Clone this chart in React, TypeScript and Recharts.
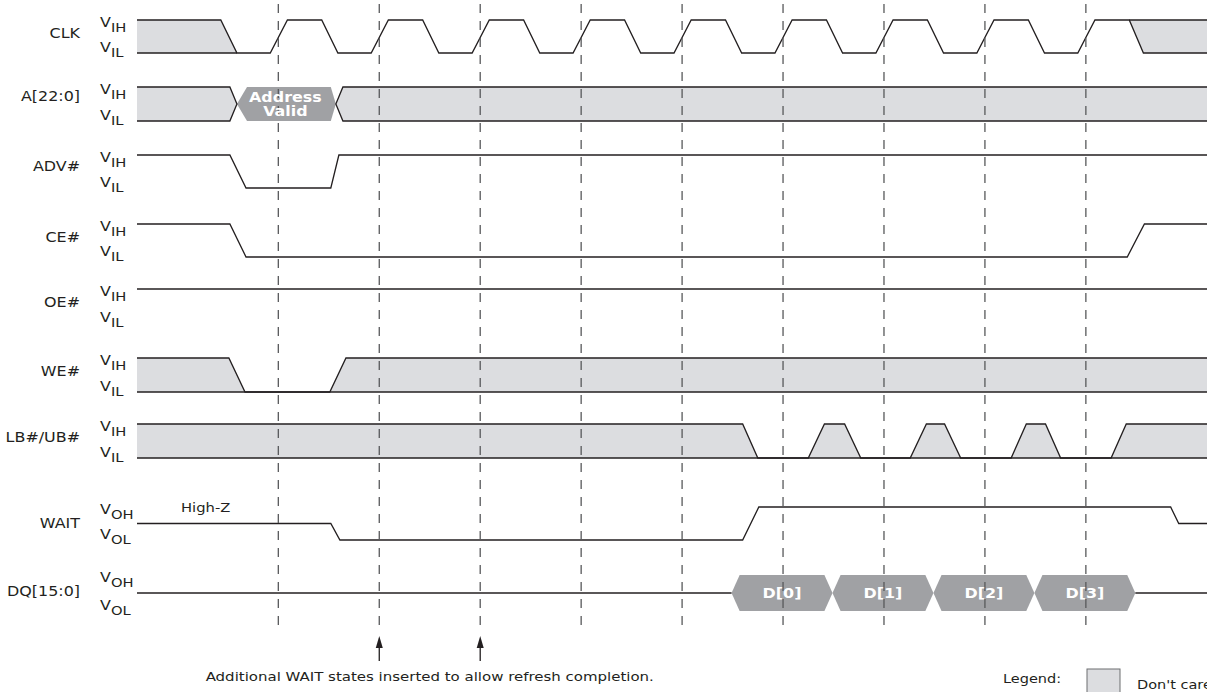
import React from 'react'
import { ComposedChart, XAxis, YAxis, Line, Area, Scatter, ReferenceLine } from 'recharts'

// time axis in clock periods, dashed marks sit on the rising edges
const T_MIN = -0.4
const T_MAX = 10.2

const SIGNALS = ['CLK', 'A[22:0]', 'ADV#', 'CE#', 'OE#', 'WE#', 'LB#/UB#', 'WAIT', 'DQ[15:0]']
const LEVEL_TAGS = [
  ['IH', 'IL'], ['IH', 'IL'], ['IH', 'IL'], ['IH', 'IL'], ['IH', 'IL'],
  ['IH', 'IL'], ['IH', 'IL'], ['OH', 'OL'], ['OH', 'OL'],
]
const CLOCK_EDGES = [1, 2, 3, 4, 5, 6, 7, 8, 9]
const WAIT_MARKS = [2, 3]
const NOTE = 'Additional WAIT states inserted to allow refresh completion.'

type Pt = [number, number] // [t, level]  1 = high, 0 = low, 0.5 = mid / high-Z
type Band = [number, number, number] // [t, lowerLevel, upperLevel]

// ---- waveforms (outlines) ----
const CLK_WAVE: Pt[] = [
  [T_MIN, 1], [0.43, 1], [0.59, 0], [0.92, 0], [1.09, 1], [1.43, 1], [1.59, 0], [1.92, 0],
  [2.09, 1], [2.43, 1], [2.59, 0], [2.92, 0], [3.09, 1], [3.43, 1], [3.59, 0], [3.92, 0],
  [4.09, 1], [4.43, 1], [4.59, 0], [4.92, 0], [5.09, 1], [5.43, 1], [5.59, 0], [5.92, 0],
  [6.09, 1], [6.43, 1], [6.59, 0], [6.92, 0], [7.09, 1], [7.43, 1], [7.59, 0], [7.92, 0],
  [8.09, 1], [8.43, 1], [8.59, 0], [8.92, 0], [9.09, 1], [9.43, 1], [9.57, 0], [T_MAX, 0],
]
const CLK_RAIL_LOW: Pt[] = [[T_MIN, 0], [0.59, 0]]
const CLK_RAIL_HIGH: Pt[] = [[9.43, 1], [T_MAX, 1]]
const A_LEFT: Pt[] = [[T_MIN, 1], [0.52, 1], [0.59, 0.5], [0.52, 0], [T_MIN, 0]]
const A_RIGHT: Pt[] = [[T_MAX, 1], [1.64, 1], [1.57, 0.5], [1.64, 0], [T_MAX, 0]]
const ADV_WAVE: Pt[] = [[T_MIN, 1], [0.52, 1], [0.68, 0], [1.52, 0], [1.6, 1], [T_MAX, 1]]
const CE_WAVE: Pt[] = [[T_MIN, 1], [0.52, 1], [0.68, 0], [9.41, 0], [9.58, 1], [T_MAX, 1]]
const OE_WAVE: Pt[] = [[T_MIN, 1], [T_MAX, 1]]
const WE_WAVE: Pt[] = [[T_MIN, 1], [0.51, 1], [0.67, 0], [1.51, 0], [1.67, 1], [T_MAX, 1]]
const WE_RAIL: Pt[] = [[T_MIN, 0], [T_MAX, 0]]
const LB_WAVE: Pt[] = [
  [T_MIN, 1], [5.6, 1], [5.75, 0], [6.25, 0], [6.41, 1], [6.61, 1], [6.77, 0], [7.26, 0],
  [7.42, 1], [7.6, 1], [7.76, 0], [8.26, 0], [8.41, 1], [8.6, 1], [8.75, 0], [9.25, 0],
  [9.4, 1], [T_MAX, 1],
]
const LB_RAIL: Pt[] = [[T_MIN, 0], [T_MAX, 0]]
const WAIT_WAVE: Pt[] = [[T_MIN, 0.5], [1.52, 0.5], [1.61, 0], [5.6, 0], [5.76, 1], [9.84, 1], [9.92, 0.5], [T_MAX, 0.5]]
const DQ_BEFORE: Pt[] = [[T_MIN, 0.5], [5.49, 0.5]]
const DQ_AFTER: Pt[] = [[9.49, 0.5], [T_MAX, 0.5]]

// ---- don't care shading ----
const CLK_DC_START: Band[] = [[T_MIN, 0, 1], [0.43, 0, 1], [0.59, 0, 0]]
const CLK_DC_END: Band[] = [[9.43, 1, 1], [9.57, 0, 1], [T_MAX, 0, 1]]
const A_DC_START: Band[] = [[T_MIN, 0, 1], [0.52, 0, 1], [0.59, 0.5, 0.5]]
const A_DC_END: Band[] = [[1.57, 0.5, 0.5], [1.64, 0, 1], [T_MAX, 0, 1]]
const WE_DC_START: Band[] = [[T_MIN, 0, 1], [0.51, 0, 1], [0.67, 0, 0]]
const WE_DC_END: Band[] = [[1.51, 0, 0], [1.67, 0, 1], [T_MAX, 0, 1]]
const LB_DC: Band[] = LB_WAVE.map(([t, l]) => [t, 0, l] as Band)

// ---- valid bus windows ----
const A_VALID: Band[] = [[0.59, 0.5, 0.5], [0.69, 0, 1], [1.52, 0, 1], [1.57, 0.5, 0.5]]
const D0: Band[] = [[5.49, 0.5, 0.5], [5.57, 0, 1], [6.41, 0, 1], [6.49, 0.5, 0.5]]
const D1: Band[] = [[6.49, 0.5, 0.5], [6.57, 0, 1], [7.41, 0, 1], [7.49, 0.5, 0.5]]
const D2: Band[] = [[7.49, 0.5, 0.5], [7.57, 0, 1], [8.41, 0, 1], [8.49, 0.5, 0.5]]
const D3: Band[] = [[8.49, 0.5, 0.5], [8.57, 0, 1], [9.41, 0, 1], [9.49, 0.5, 0.5]]
const BUS_TEXT = [
  { row: 1, t: 1.07, lines: ['Address', 'Valid'] },
  { row: 8, t: 5.99, lines: ['D[0]'] },
  { row: 8, t: 6.99, lines: ['D[1]'] },
  { row: 8, t: 7.99, lines: ['D[2]'] },
  { row: 8, t: 8.99, lines: ['D[3]'] },
]

// ---- layout (pixels, y axis is 1:1 with the page) ----
const W = 1207
const H = 692
const ROW_HIGH = [20, 87, 155, 224, 289, 358, 424, 507, 575]
const ROW_LOW = [53, 121, 188, 257, 323, 392, 458, 540, 611]
const NAME_SHIFT = [-3, -7, -5, -3, -3, -3, -3, 0, -1]
const ROW_MIDS = ROW_HIGH.map((h, i) => (h + ROW_LOW[i]) / 2)

const INK = '#231f20'
const SHADE = '#dcdde0'
const BUS = '#a0a1a4'
const FONT = '"DejaVu Sans", Verdana, sans-serif'
const STRETCH = 1.18

const yOf = (row: number, level: number) => ROW_LOW[row] + (ROW_HIGH[row] - ROW_LOW[row]) * level

const TRACES: { row: number; pts: Pt[] }[] = [
  { row: 0, pts: CLK_WAVE }, { row: 0, pts: CLK_RAIL_LOW }, { row: 0, pts: CLK_RAIL_HIGH },
  { row: 1, pts: A_LEFT }, { row: 1, pts: A_RIGHT },
  { row: 2, pts: ADV_WAVE }, { row: 3, pts: CE_WAVE }, { row: 4, pts: OE_WAVE },
  { row: 5, pts: WE_WAVE }, { row: 5, pts: WE_RAIL },
  { row: 6, pts: LB_WAVE }, { row: 6, pts: LB_RAIL },
  { row: 7, pts: WAIT_WAVE }, { row: 8, pts: DQ_BEFORE }, { row: 8, pts: DQ_AFTER },
]
const SHADES: { row: number; pts: Band[]; fill: string }[] = [
  { row: 0, pts: CLK_DC_START, fill: SHADE }, { row: 0, pts: CLK_DC_END, fill: SHADE },
  { row: 1, pts: A_DC_START, fill: SHADE }, { row: 1, pts: A_DC_END, fill: SHADE },
  { row: 5, pts: WE_DC_START, fill: SHADE }, { row: 5, pts: WE_DC_END, fill: SHADE },
  { row: 6, pts: LB_DC, fill: SHADE },
  { row: 1, pts: A_VALID, fill: BUS },
  { row: 8, pts: D0, fill: BUS }, { row: 8, pts: D1, fill: BUS },
  { row: 8, pts: D2, fill: BUS }, { row: 8, pts: D3, fill: BUS },
]

const Txt = ({ x, y, anchor = 'start', size = 13.5, bold = false, fill = INK, children }: any) => (
  <g transform={`translate(${x},${y}) scale(${STRETCH},1)`}>
    <text textAnchor={anchor} fontSize={size} fontWeight={bold ? 'bold' : 'normal'} fill={fill} fontFamily={FONT}>
      {children}
    </text>
  </g>
)

const RowTick = (props: any) => {
  const { y, payload } = props
  const i = ROW_MIDS.indexOf(payload.value)
  if (i < 0) return null
  const dHi = ROW_HIGH[i] - ROW_MIDS[i]
  const dLo = ROW_LOW[i] - ROW_MIDS[i]
  return (
    <g>
      <Txt x={80} y={y + NAME_SHIFT[i] + 4} anchor='end'>{SIGNALS[i]}</Txt>
      <Txt x={100} y={y + dHi + 7}>
        V<tspan dy={5} fontSize={12.5}>{LEVEL_TAGS[i][0]}</tspan>
      </Txt>
      <Txt x={100} y={y + dLo - 1}>
        V<tspan dy={5} fontSize={12.5}>{LEVEL_TAGS[i][1]}</tspan>
      </Txt>
    </g>
  )
}

const BusLabel = (props: any) => {
  const { cx, cy, payload } = props
  const n = payload.lines.length
  return (
    <g>
      {payload.lines.map((s: string, k: number) => (
        <Txt key={k} x={cx} y={cy + 5 + (k - (n - 1) / 2) * 14} anchor='middle' size={13.5} bold fill='#ffffff'>{s}</Txt>
      ))}
    </g>
  )
}

const Arrow = (props: any) => {
  const { cx, cy } = props
  return (
    <g>
      <line x1={cx} y1={cy + 8} x2={cx} y2={cy + 25} stroke={INK} strokeWidth={1.3} />
      <path d={`M${cx},${cy} L${cx - 3.5},${cy + 12} L${cx + 3.5},${cy + 12} Z`} fill={INK} />
    </g>
  )
}

const Note = (props: any) => (
  <Txt x={props.cx} y={props.cy} anchor={props.payload.anchor} size={props.payload.size}>{props.payload.text}</Txt>
)

export default function App() {
  const busText = BUS_TEXT.map((b) => ({ t: b.t, y: yOf(b.row, 0.5), lines: b.lines }))
  const arrows = WAIT_MARKS.map((t) => ({ t, y: 636 }))
  const notes = [
    { t: 2.5, y: 681, text: NOTE, anchor: 'middle', size: 12.7 },
    { t: 0.28, y: 512, text: 'High-Z', anchor: 'middle', size: 12.5 },
  ]

  return (
    <div style={{ position: 'relative', width: W, height: H }}>
      <style>{'body{margin:0}'}</style>
      <ComposedChart width={W} height={H} margin={{ top: 0, right: 0, bottom: 0, left: 0 }}>
        <XAxis type='number' dataKey='t' domain={[T_MIN, T_MAX]} allowDataOverflow hide />
        <YAxis
          type='number'
          domain={[0, H]}
          reversed
          allowDataOverflow
          width={137}
          ticks={ROW_MIDS}
          interval={0}
          tick={<RowTick />}
          axisLine={false}
          tickLine={false}
        />
        {SHADES.map((s, i) => (
          <Area
            key={`sh-${i}`}
            data={s.pts.map(([t, lo, hi]) => ({ t, band: [yOf(s.row, lo), yOf(s.row, hi)] }))}
            dataKey='band'
            type='linear'
            fill={s.fill}
            fillOpacity={1}
            stroke='none'
            dot={false}
            activeDot={false}
            isAnimationActive={false}
          />
        ))}
        {TRACES.map((tr, i) => (
          <Line
            key={`tr-${i}`}
            data={tr.pts.map(([t, l]) => ({ t, y: yOf(tr.row, l) }))}
            dataKey='y'
            type='linear'
            stroke={INK}
            strokeWidth={1.3}
            dot={false}
            activeDot={false}
            isAnimationActive={false}
          />
        ))}
        {CLOCK_EDGES.map((t) => (
          <ReferenceLine
            key={`edge-${t}`}
            segment={[{ x: t, y: 4 }, { x: t, y: 628 }]}
            stroke='#58595b'
            strokeWidth={1.3}
            strokeDasharray='9 8'
          />
        ))}
        <Scatter data={busText} dataKey='y' shape={<BusLabel />} isAnimationActive={false} />
        <Scatter data={arrows} dataKey='y' shape={<Arrow />} isAnimationActive={false} />
        <Scatter data={notes} dataKey='y' shape={<Note />} isAnimationActive={false} />
      </ComposedChart>
      {/* legend */}
      <svg width={W} height={H} style={{ position: 'absolute', left: 0, top: 0, pointerEvents: 'none' }}>
        <Txt x={1003} y={683} size={12.3}>Legend:</Txt>
        <rect x={1087} y={669} width={33} height={36} fill={SHADE} stroke='#6d6e71' strokeWidth={1} />
        <Txt x={1137} y={689} size={12.3}>Don't care</Txt>
      </svg>
    </div>
  )
}
